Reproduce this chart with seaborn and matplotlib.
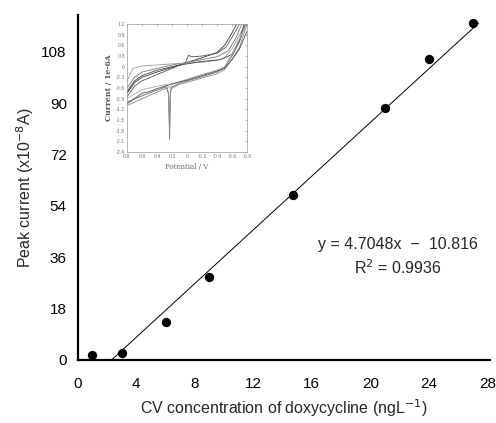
import numpy as np
import pandas as pd
import matplotlib
matplotlib.use("Agg")
import matplotlib.pyplot as plt
import seaborn as sns

# ---- main calibration data ----
conc = [1, 3, 6, 9, 14.7, 21, 24, 27]
current = [1.6, 2.5, 13.2, 29.0, 58.0, 88.2, 105.5, 118.2]
slope, intercept = 4.7048, -10.816
fit_x = [2.3, 27.4]
x_ticks = [0, 4, 8, 12, 16, 20, 24, 28]
y_ticks = [0, 18, 36, 54, 72, 90, 108]

# ---- inset CV curves (potential V, current 1e-6 A), read approximately ----
cv_upper_1 = ([0.8, 0.7, 0.6, 0.4, 0.2, 0.0, -0.2, -0.4, -0.5, -0.6, -0.66],
              [-0.75, -0.45, -0.3, -0.15, -0.02, 0.12, 0.25, 0.4, 0.6, 0.95, 1.2])
cv_upper_2 = ([0.8, 0.7, 0.6, 0.4, 0.2, 0.02, -0.02, -0.06, -0.2, -0.4, -0.52, -0.62, -0.7],
              [-0.85, -0.55, -0.4, -0.22, -0.05, 0.12, 0.32, 0.28, 0.3, 0.38, 0.55, 0.9, 1.2])
cv_upper_3 = ([0.8, 0.7, 0.6, 0.4, 0.2, 0.0, -0.2, -0.4, -0.55, -0.65, -0.73],
              [-0.6, -0.3, -0.15, -0.05, 0.05, 0.12, 0.2, 0.28, 0.45, 0.8, 1.2])
cv_upper_4 = ([0.8, 0.72, 0.6, 0.4, 0.2, 0.0, -0.2, -0.4, -0.5, -0.6, -0.7, -0.78],
              [-0.4, -0.05, 0.02, 0.05, 0.08, 0.1, 0.12, 0.18, 0.25, 0.5, 0.9, 1.2])
cv_upper_5 = ([0.8, 0.7, 0.6, 0.4, 0.2, 0.0, -0.2, -0.45, -0.6, -0.7, -0.76],
              [-0.7, -0.4, -0.25, -0.1, 0.0, 0.08, 0.15, 0.2, 0.35, 0.75, 1.2])
cv_lower_1 = ([0.8, 0.6, 0.4, 0.27, 0.245, 0.232, 0.222, 0.21, 0.1, 0.0, -0.2, -0.4, -0.5, -0.6, -0.7, -0.78],
              [-1.0, -0.82, -0.66, -0.56, -0.75, -2.05, -0.75, -0.58, -0.46, -0.4, -0.28, -0.15, -0.02, 0.3, 0.7, 1.2])
cv_lower_2 = ([0.8, 0.6, 0.4, 0.27, 0.245, 0.232, 0.222, 0.21, 0.1, 0.0, -0.2, -0.4, -0.5, -0.6, -0.7, -0.8],
              [-1.1, -0.9, -0.72, -0.6, -0.8, -1.9, -0.8, -0.62, -0.5, -0.44, -0.32, -0.2, -0.08, 0.2, 0.55, 1.2])
cv_lower_3 = ([0.8, 0.6, 0.5, 0.4, 0.27, 0.23, 0.2, 0.0, -0.2, -0.4, -0.5, -0.6, -0.7, -0.8],
              [-0.9, -0.65, -0.6, -0.55, -0.5, -0.6, -0.5, -0.35, -0.22, -0.1, 0.0, 0.35, 0.8, 1.2])
cv_lower_4 = ([0.8, 0.6, 0.5, 0.4, 0.2, 0.0, -0.2, -0.4, -0.5, -0.6, -0.7, -0.8],
              [-1.05, -0.75, -0.7, -0.62, -0.48, -0.38, -0.25, -0.12, -0.05, 0.2, 0.5, 1.0])
cv_curves = [cv_upper_1, cv_upper_2, cv_upper_3, cv_upper_4, cv_upper_5,
             cv_lower_1, cv_lower_2, cv_lower_3, cv_lower_4]
cv_colors = ["#333333", "#555555", "#777777", "#999999", "#444444",
             "#666666", "#888888", "#aaaaaa", "#505050"]
cv_xticks = [0.8, 0.6, 0.4, 0.2, 0.0, -0.2, -0.4, -0.6, -0.8]
cv_yticks = [1.2, 0.9, 0.6, 0.3, 0.0, -0.3, -0.6, -0.9, -1.2, -1.5, -1.8, -2.1, -2.4]

sns.set_style("white")
plt.rcParams["font.family"] = ["Liberation Sans", "DejaVu Sans"]

fig = plt.figure(figsize=(4.96, 4.23), dpi=100)
ax = fig.add_axes([0.157, 0.149, 0.83, 0.816])

df = pd.DataFrame({"x": conc, "y": current})
sns.scatterplot(data=df, x="x", y="y", ax=ax, s=45, color="black",
                edgecolor="black", linewidth=0, zorder=3)
fit_df = pd.DataFrame({"x": fit_x, "y": [slope * v + intercept for v in fit_x]})
sns.lineplot(data=fit_df, x="x", y="y", ax=ax, color="black", linewidth=0.7)

ax.set_xlim(0, 28.15)
ax.set_ylim(0, 121)
ax.set_xticks(x_ticks)
ax.set_yticks(y_ticks)
ax.tick_params(direction="in", length=4, width=1.5, labelsize=11, pad=8,
               colors="black")
ax.tick_params(axis="x", pad=12)
for s in ["top", "right"]:
    ax.spines[s].set_visible(False)
for s in ["left", "bottom"]:
    ax.spines[s].set_linewidth(1.6)
    ax.spines[s].set_color("black")
ax.set_xlabel("CV concentration of doxycycline (ngL$^{-1}$)", fontsize=11.5, labelpad=5)
ax.set_ylabel("Peak current (x10$^{-8}$A)", fontsize=11.5, labelpad=4)

ax.text(21.9, 40.5, "y = 4.7048x  −  10.816", ha="center", va="center", fontsize=11.5)
ax.text(21.9, 32.2, "R$^2$ = 0.9936", ha="center", va="center", fontsize=11.5)

# ---- inset ----
ins = fig.add_axes([0.256, 0.641, 0.242, 0.302])
for (px, py), c in zip(cv_curves, cv_colors):
    sns.lineplot(x=px, y=py, ax=ins, color=c, linewidth=0.6, sort=False)
ins.set_xlim(0.8, -0.8)
ins.set_ylim(-2.4, 1.2)
ins.set_xticks(cv_xticks)
ins.set_yticks(cv_yticks)
ins.set_xticklabels([f"{v:.1f}".replace("-0.0", "0").replace("0.0", "0") for v in cv_xticks])
ins.set_yticklabels([f"{v:.1f}".replace("-0.0", "0").replace("0.0", "0") for v in cv_yticks])
ins.tick_params(direction="in", length=1.5, width=0.4, labelsize=3.8, pad=1.5,
                colors="#777777", top=True, right=True)
for s in ins.spines.values():
    s.set_linewidth(0.5)
    s.set_color("#999999")
ins.set_xlabel("Potential / V", fontsize=5, family="DejaVu Serif", labelpad=3,
               color="#666666")
ins.set_ylabel("Current / 1e-6A", fontsize=5.5, family="DejaVu Serif",
               fontweight="bold", labelpad=2, color="#555555")

fig.savefig("out.png", dpi=100)
